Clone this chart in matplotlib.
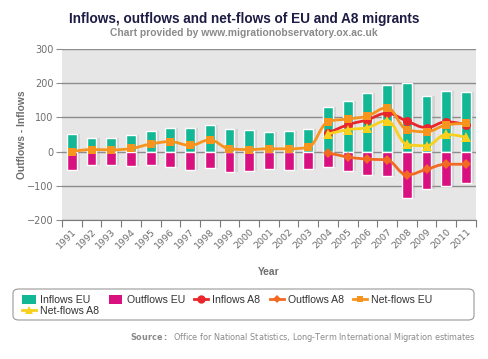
import numpy as np
import matplotlib.pyplot as plt
from matplotlib.path import Path
from matplotlib.patches import PathPatch, Patch, FancyBboxPatch
from matplotlib.lines import Line2D

# ── data (thousands) ──
years = list(range(1991, 2012))
inflows_eu = [51, 41, 41, 49, 59, 70, 70, 79, 65, 63, 56, 59, 66,
              129, 149, 170, 195, 199, 163, 176, 175]
outflows_eu = [-53, -39, -39, -43, -39, -45, -53, -47, -59, -57, -50, -53, -50,
               -45, -56, -67, -70, -135, -108, -100, -91]
netflows_eu = [0, 6, 5, 9, 22, 29, 18, 34, 8, 6, 8, 8, 13,
               87, 95, 104, 128, 64, 58, 78, 82]
a8_years = list(range(2004, 2012))
inflows_a8 = [54, 78, 93, 112, 89, 70, 87, 79]
outflows_a8 = [-3, -16, -22, -25, -68, -52, -37, -37]
netflows_a8 = [51, 64, 70, 90, 21, 17, 50, 42]

C_IN_EU = "#12b795"
C_OUT_EU = "#d9107f"
C_IN_A8 = "#e8262b"
C_OUT_A8 = "#f26a22"
C_NET_EU = "#f7941e"
C_NET_A8 = "#f9d01c"
GRID = "#8c8c8c"
TXT = "#6e6e6e"


def spline_path(xs, ys, smoothing=1.5):
    """Highcharts-style spline through the points, as a cubic bezier path."""
    n = len(xs)
    left, right = [], []
    for i in range(n):
        x, y = xs[i], ys[i]
        if i == 0 or i == n - 1:
            left.append((x, y))
            right.append((x, y))
            continue
        lx, ly = xs[i - 1], ys[i - 1]
        nx, ny = xs[i + 1], ys[i + 1]
        d = smoothing + 1
        lcx, lcy = (smoothing * x + lx) / d, (smoothing * y + ly) / d
        rcx, rcy = (smoothing * x + nx) / d, (smoothing * y + ny) / d
        corr = (rcy - lcy) * (rcx - x) / (rcx - lcx) + y - rcy
        lcy += corr
        rcy += corr
        if lcy > ly and lcy > y:
            lcy = max(ly, y); rcy = 2 * y - lcy
        elif lcy < ly and lcy < y:
            lcy = min(ly, y); rcy = 2 * y - lcy
        if rcy > ny and rcy > y:
            rcy = max(ny, y); lcy = 2 * y - rcy
        elif rcy < ny and rcy < y:
            rcy = min(ny, y); lcy = 2 * y - rcy
        left.append((lcx, lcy))
        right.append((rcx, rcy))
    verts = [(xs[0], ys[0])]
    codes = [Path.MOVETO]
    for i in range(1, n):
        verts += [right[i - 1], left[i], (xs[i], ys[i])]
        codes += [Path.CURVE4] * 3
    return Path(verts, codes)


fig = plt.figure(figsize=(4.88, 3.59), dpi=100)
ax = fig.add_axes([0.127, 0.387, 0.848, 0.477])
ax.set_facecolor("#e6e6e6")

idx = np.arange(len(years))
a8_idx = np.array([years.index(y) for y in a8_years])

# bar shadows, then bars with white border
for vals in (inflows_eu, outflows_eu):
    ax.bar(idx + 0.1, vals, width=0.62, color="#9a9a9a", alpha=0.25,
           linewidth=0, zorder=2)
ax.bar(idx, inflows_eu, width=0.5, color=C_IN_EU, edgecolor="white",
       linewidth=1, zorder=3)
ax.bar(idx, outflows_eu, width=0.5, color=C_OUT_EU, edgecolor="white",
       linewidth=1, zorder=3)

series = [
    (a8_idx, inflows_a8, C_IN_A8, "o", 6.5),
    (a8_idx, outflows_a8, C_OUT_A8, "D", 5),
    (idx, netflows_eu, C_NET_EU, "s", 6),
    (a8_idx, netflows_a8, C_NET_A8, "^", 7),
]
for k, (xs, ys, col, mk, ms) in enumerate(series):
    z = 4 + k
    ax.add_patch(PathPatch(spline_path(list(xs), list(ys)), facecolor="none",
                           edgecolor=col, linewidth=2, zorder=z))
    ax.plot(xs, ys, linestyle="none", marker=mk, markersize=ms, color=col,
            markeredgewidth=0, zorder=z + 0.5)

ax.set_xlim(-0.5, len(years) - 0.5)
ax.set_ylim(-200, 300)
ax.set_yticks([-200, -100, 0, 100, 200, 300])
ax.grid(axis="y", color=GRID, linewidth=1, zorder=1)
ax.set_axisbelow(True)
for s in ("top", "right", "left"):
    ax.spines[s].set_visible(False)
ax.spines["bottom"].set_color("#7a7a7a")

ax.set_xticks(np.arange(-0.5, len(years), 1.0))
ax.set_xticklabels([])
ax.set_xticks(idx, minor=True)
ax.set_xticklabels([str(y) for y in years], minor=True, rotation=45,
                   ha="right", rotation_mode="anchor", fontsize=6.8, color=TXT)
ax.tick_params(axis="x", which="major", length=5, color="#7a7a7a")
ax.tick_params(axis="x", which="minor", length=0, pad=5)
ax.tick_params(axis="y", length=4, color=GRID, labelsize=7, labelcolor=TXT, pad=2)

ax.set_ylabel("Outflows - Inflows", fontsize=7.4, fontweight="bold", color=TXT,
              family="Liberation Sans", labelpad=0)
ax.set_xlabel("Year", fontsize=7.4, fontweight="bold", color=TXT,
              family="Liberation Sans", labelpad=12)

fig.text(0.5, 0.948, "Inflows, outflows and net-flows of EU and A8 migrants",
         ha="center", va="center", fontsize=9.8, fontweight="bold",
         color="#1c1c44", family="Liberation Sans")
fig.text(0.5, 0.907, "Chart provided by www.migrationobservatory.ox.ac.uk",
         ha="center", va="center", fontsize=7.4, fontweight="bold",
         color="#8a8a8a", family="Liberation Sans")

# legend frame + entries
fig.add_artist(FancyBboxPatch((13 / 488, 1 - 320 / 359), 461 / 488, 31 / 359,
                              boxstyle="round,pad=0,rounding_size=0.012",
                              transform=fig.transFigure, facecolor="white",
                              edgecolor="#9a9a9a", linewidth=0.8))
handles = [
    Patch(facecolor=C_IN_EU, edgecolor="none"),
    Line2D([], [], color=C_NET_A8, marker="^", markersize=6, lw=2, mew=0),
    Patch(facecolor=C_OUT_EU, edgecolor="none"),
    Line2D([], [], color=C_IN_A8, marker="o", markersize=6, lw=2, mew=0),
    Line2D([], [], color=C_OUT_A8, marker="D", markersize=4.5, lw=2, mew=0),
    Line2D([], [], color=C_NET_EU, marker="s", markersize=5, lw=2, mew=0),
]
labels = ["Inflows EU", "Net-flows A8", "Outflows EU", "Inflows A8",
          "Outflows A8", "Net-flows EU"]
fig.legend(handles, labels, ncol=5, loc="center left",
           bbox_to_anchor=(17 / 488, 1 - 305.5 / 359), frameon=False,
           prop={"family": "Liberation Sans", "size": 7.6},
           labelcolor="#333333",
           handlelength=1.3, handleheight=0.9, handletextpad=0.4,
           columnspacing=0.9, labelspacing=0.1, borderpad=0)

fig.text(476 / 488, 1 - 338 / 359,
         r"$\bf{Source:}$  Office for National Statistics, Long-Term International Migration estimates",
         ha="right", va="center", fontsize=5.9, color="#8a8a8a")

fig.savefig("out.png", dpi=100)
